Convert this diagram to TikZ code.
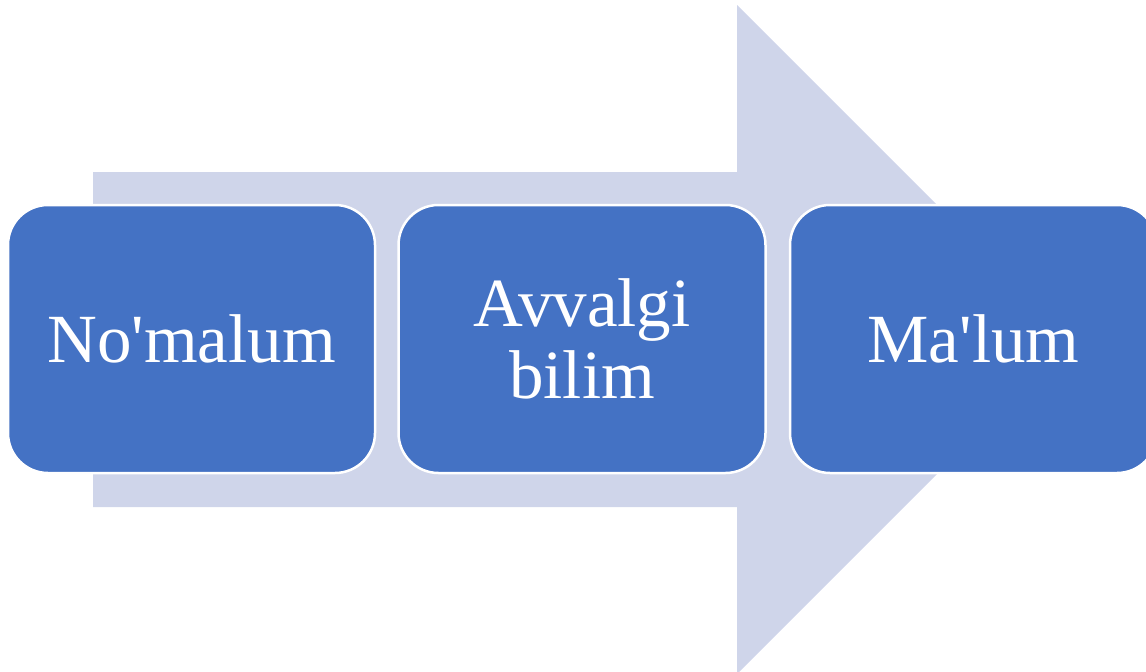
\documentclass[tikz,border=0pt]{standalone}
\usepackage{fontspec}
\setmainfont{Liberation Serif}[Ligatures=TeXOff]
\definecolor{boxblue}{HTML}{4472C4}
\definecolor{arrowgray}{HTML}{CFD5EA}
\begin{document}
\begin{tikzpicture}[x=1pt,y=-1pt,
  stage/.style={rectangle, rounded corners=40pt, fill=boxblue, draw=white, line width=2.5pt,
    minimum width=367pt, minimum height=268pt, inner sep=0pt, text=white, align=center,
    font=\fontsize{69}{72}\selectfont}]
\useasboundingbox (0,0) rectangle (1146,672);
\clip (0,0) rectangle (1146,672);
% big background arrow
\fill[arrowgray] (93,172) -- (737,172) -- (737,5) -- (1071.5,339.5) -- (737,674) -- (737,507) -- (93,507) -- cycle;
% stages
\node[stage] (b1) at (191.5,339) {No'malum};
\node[stage] (b2) at (582,339) {Avvalgi\\bilim};
\node[stage] (b3) at (973.5,339) {Ma'lum};
\end{tikzpicture}
\end{document}
